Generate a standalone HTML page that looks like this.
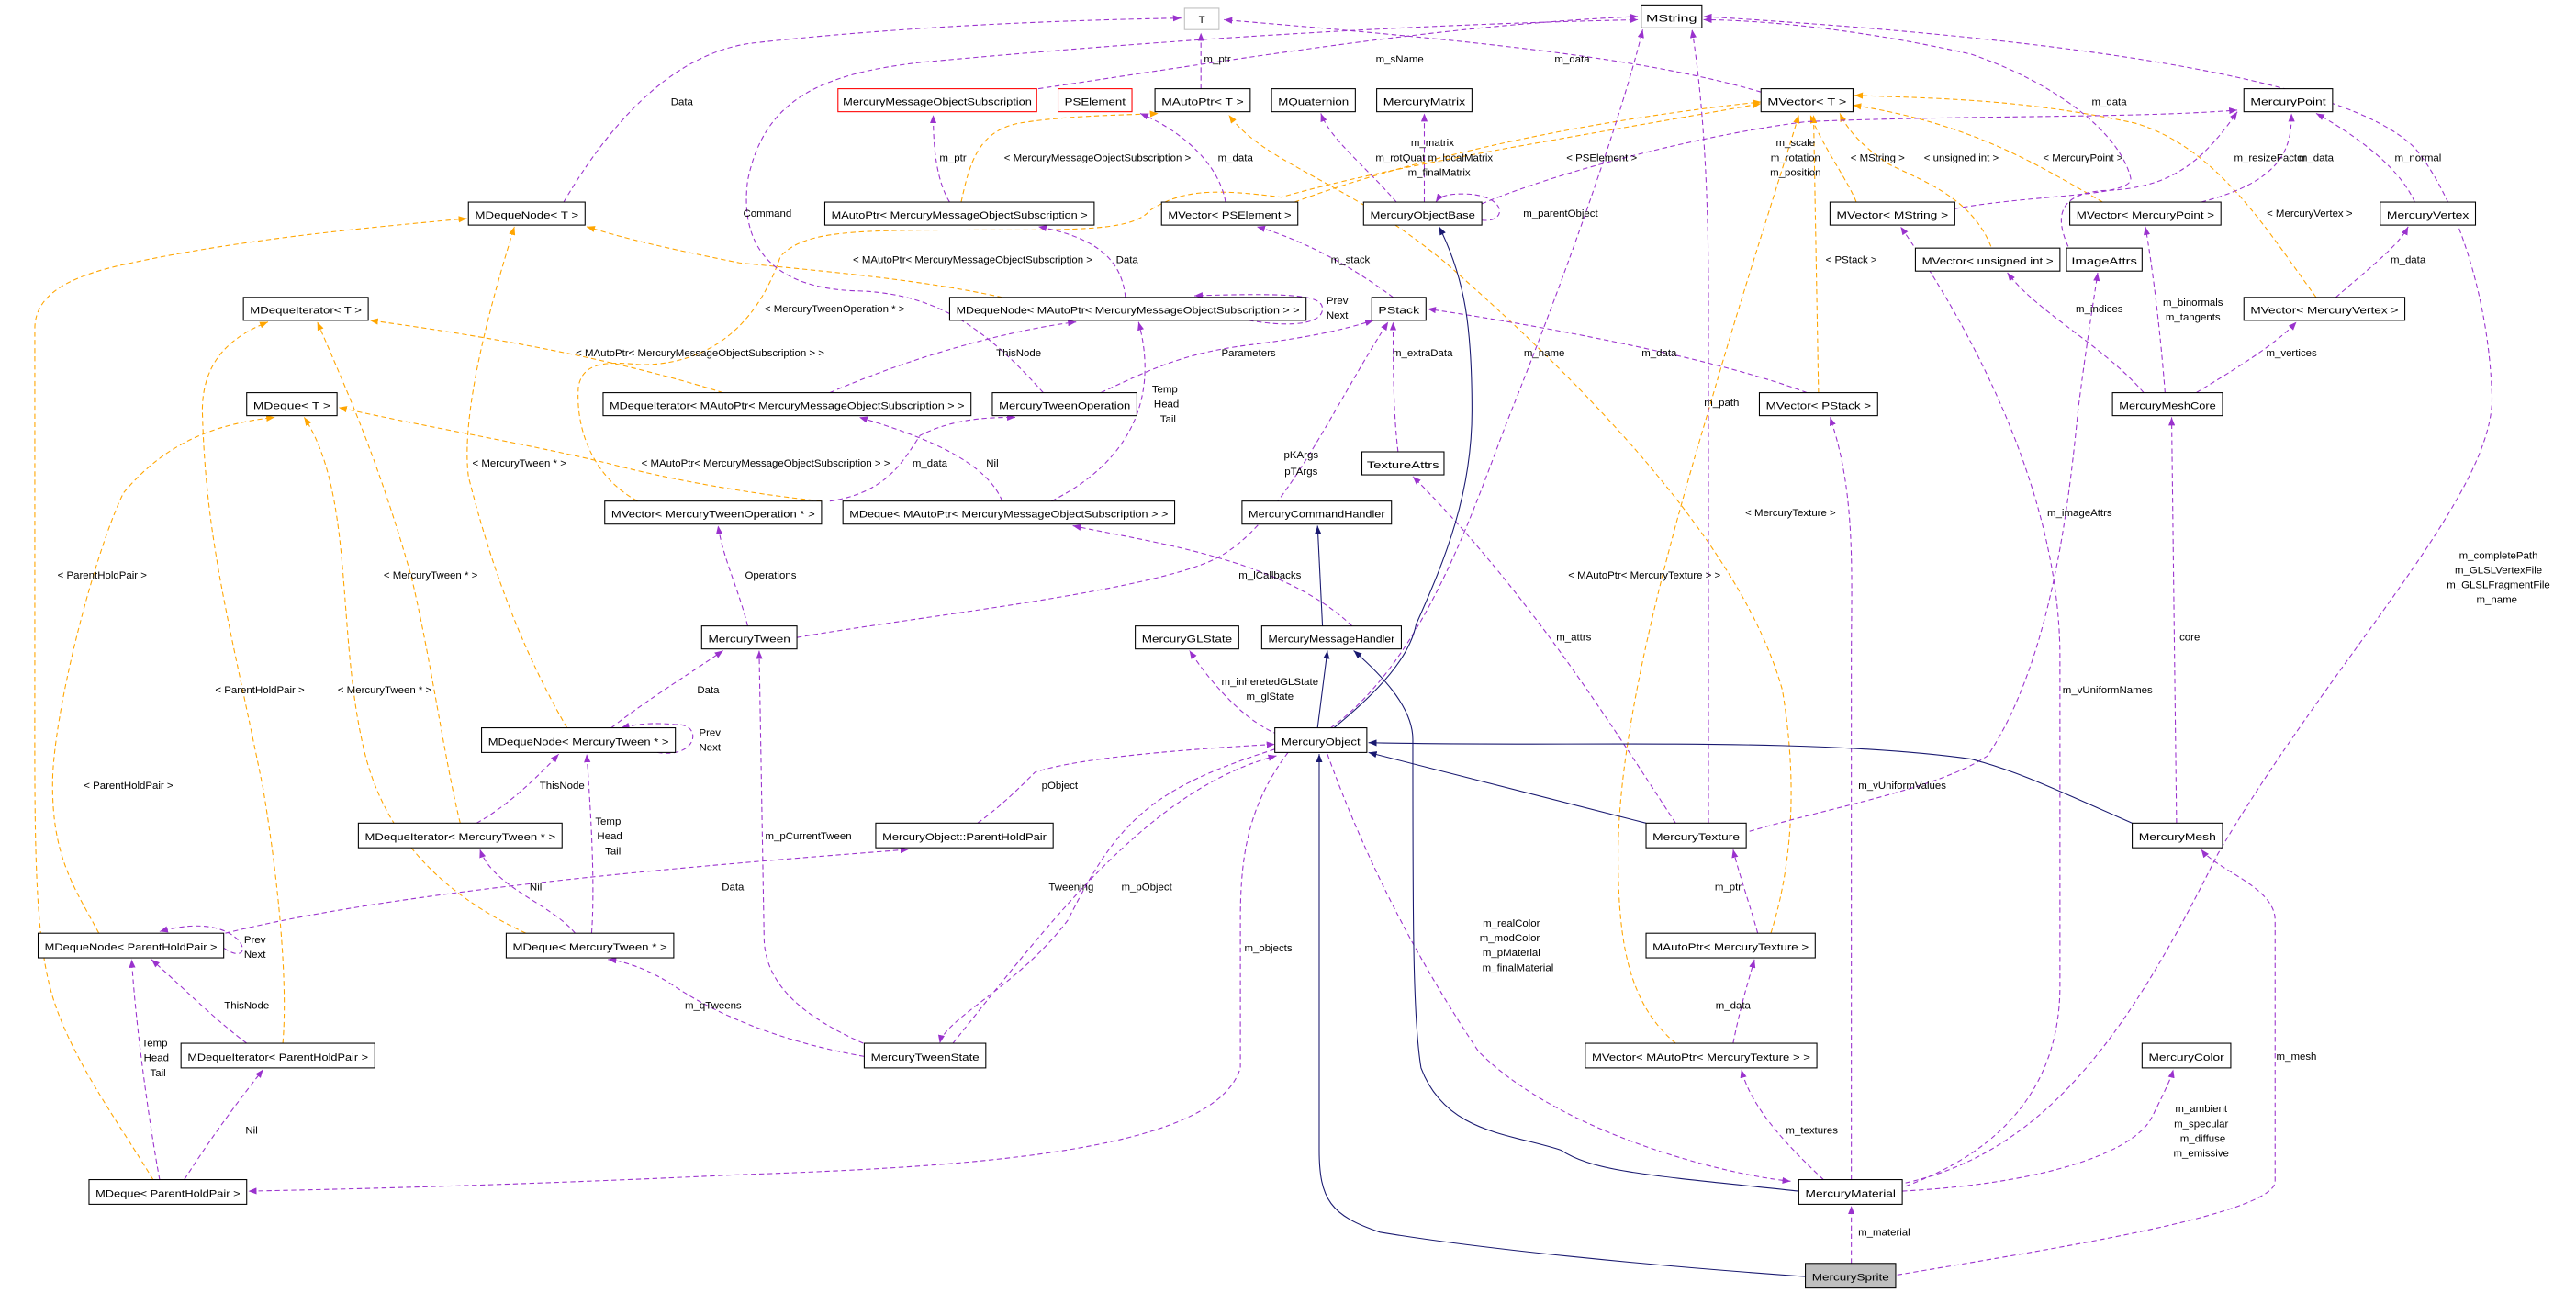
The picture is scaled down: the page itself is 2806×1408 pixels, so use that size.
<!DOCTYPE html>
<html><head><meta charset="utf-8"><style>
html,body{margin:0;padding:0;background:#fff;}
svg{display:block;}
.b{fill:#fff;stroke:#000;stroke-width:.6;}
.p{fill:none;stroke:#9a32cd;stroke-width:.6;stroke-dasharray:3 2;marker-end:url(#mp);}
.o{fill:none;stroke:#ffa500;stroke-width:.6;stroke-dasharray:3 2;marker-end:url(#mo);}
.n{fill:none;stroke:#191970;stroke-width:.6;marker-end:url(#mn);}
text{font-family:"Liberation Sans Narrow","Liberation Sans",sans-serif;font-size:6.4px;fill:#000;}
.c{text-anchor:middle;}
</style></head><body>
<svg width="2806" height="1408" viewBox="0 0 1568 787" xmlns="http://www.w3.org/2000/svg">
<defs>
<marker id="mp" markerUnits="userSpaceOnUse" markerWidth="6" markerHeight="4" refX="5" refY="2" orient="auto"><path d="M0,0L5,2L0,4z" fill="#9a32cd"/></marker>
<marker id="mo" markerUnits="userSpaceOnUse" markerWidth="6" markerHeight="4" refX="5" refY="2" orient="auto"><path d="M0,0L5,2L0,4z" fill="#ffa500"/></marker>
<marker id="mn" markerUnits="userSpaceOnUse" markerWidth="6" markerHeight="4" refX="5" refY="2" orient="auto"><path d="M0,0L5,2L0,4z" fill="#191970"/></marker>
</defs>
<!-- orange -->
<path class="o" d="M60,568 C45,540 30,520 32,470 C35,420 60,330 75,300 C100,270 130,258 167,254"/>
<path class="o" d="M93,718 C70,680 40,640 30,600 C20,560 21,500 21,400 L21,200 C21,180 40,168 80,160 C150,145 230,138 284,133"/>
<path class="o" d="M172,635 C175,600 170,540 160,480 C140,380 125,330 123,250 C123,220 140,205 163,196"/>
<path class="o" d="M280,501 C270,460 262,400 250,350 C230,280 212,240 193,196"/>
<path class="o" d="M320,568 C260,540 230,500 220,450 C205,380 215,300 185,254"/>
<path class="o" d="M345,443 C320,400 300,350 285,290 C280,250 300,180 313,138"/>
<path class="o" d="M610,181 C560,170 500,165 450,160 C400,150 380,145 357,138"/>
<path class="o" d="M440,239 C380,220 300,205 225,195"/>
<path class="o" d="M500,305 C450,300 400,290 370,282 C320,270 260,260 206,248"/>
<path class="o" d="M388,305 C360,290 350,260 352,235 C355,220 370,220 390,222 C430,222 460,200 475,156 C490,140 520,140 600,140 C660,140 690,140 700,128 C720,115 740,115 780,120 C850,100 950,85 1072,63"/>
<path class="o" d="M585,123 C590,100 595,80 620,75 C650,70 690,70 705,69"/>
<path class="o" d="M1078,568 C1090,530 1095,480 1085,420 C1060,330 960,230 880,160 C820,110 770,100 748,70"/>
<path class="o" d="M788,123 C850,100 950,75 1072,62"/>
<path class="o" d="M1130,123 C1125,110 1110,90 1102,70"/>
<path class="o" d="M1212,150 C1200,120 1170,110 1150,100 C1135,90 1125,80 1120,69"/>
<path class="o" d="M1280,123 C1240,100 1200,75 1128,64"/>
<path class="o" d="M1410,181 C1380,140 1350,90 1300,75 C1230,60 1180,60 1129,58"/>
<path class="o" d="M1107,239 L1104,70"/>
<path class="o" d="M1020,635 C990,610 985,570 985,520 C985,450 1010,350 1040,250 C1060,180 1080,120 1095,70"/>
<!-- purple -->
<path class="p" d="M343,123 C380,60 420,30 460,26 C560,15 660,12 719,11"/>
<path class="p" d="M632,54 C760,35 880,15 997,10"/>
<path class="p" d="M635,239 C600,200 570,178 520,177 C470,175 450,150 455,110 C465,60 500,45 560,38 C700,25 850,15 997,12"/>
<path class="p" d="M1072,56 C1000,35 900,25 745,12"/>
<path class="p" d="M731,54 L731,20"/>
<path class="p" d="M578,123 C570,110 568,90 568,70"/>
<path class="p" d="M746,123 C742,100 720,80 694,69"/>
<path class="p" d="M685,181 C683,160 670,145 632,138"/>
<path class="p" d="M760,195 C790,200 805,196 805,188 C805,180 790,178 727,180"/>
<path class="p" d="M505,239 C560,215 620,200 655,196"/>
<path class="p" d="M640,305 C690,280 705,240 693,196"/>
<path class="p" d="M610,305 C600,280 560,265 523,254"/>
<path class="p" d="M505,305 C540,300 550,280 560,265 C580,255 600,254 618,254"/>
<path class="p" d="M670,239 C700,225 720,215 760,210 C800,205 820,200 836,195"/>
<path class="p" d="M485,388 C560,375 700,360 740,340 C780,320 810,250 845,196"/>
<path class="p" d="M455,381 C450,360 440,340 437,320"/>
<path class="p" d="M372,443 C395,425 420,410 440,396"/>
<path class="p" d="M400,458 C425,462 428,440 411,441 C400,440 390,440 378,443"/>
<path class="p" d="M290,501 C310,490 330,470 340,459"/>
<path class="p" d="M360,568 C362,540 360,500 357,459"/>
<path class="p" d="M350,568 C335,550 300,540 292,517"/>
<path class="p" d="M526,643 C480,635 440,620 410,600 C395,590 380,585 370,584"/>
<path class="p" d="M530,637 C490,620 465,600 465,570 L462,396"/>
<path class="p" d="M776,456 C700,480 680,500 650,560 C620,600 575,620 572,635"/>
<path class="p" d="M580,635 C640,560 700,480 777,460"/>
<path class="p" d="M595,501 C610,490 620,480 630,470 C660,460 740,455 776,453"/>
<path class="p" d="M137,568 C250,540 450,525 553,517"/>
<path class="p" d="M136,577 C158,592 150,552 97,567"/>
<path class="p" d="M150,635 C130,620 110,600 92,584"/>
<path class="p" d="M97,718 C90,680 82,620 80,584"/>
<path class="p" d="M112,718 C130,690 145,670 160,651"/>
<path class="p" d="M784,458 C760,490 755,520 755,560 L755,650 C740,700 600,710 450,715 C300,722 200,724 151,725"/>
<path class="p" d="M778,447 C760,440 740,420 724,396"/>
<path class="p" d="M823,381 C780,340 700,330 653,320"/>
<path class="p" d="M810,443 C870,400 900,300 920,250 C960,150 990,60 1000,18"/>
<path class="p" d="M867,123 L867,69"/>
<path class="p" d="M850,123 C830,100 810,85 804,69"/>
<path class="p" d="M902,134 C918,136 918,118 890,118 C880,118 876,120 874,123"/>
<path class="p" d="M902,124 C960,100 1050,80 1100,74 C1200,70 1300,72 1362,67"/>
<path class="p" d="M1100,239 C1050,220 950,200 869,188"/>
<path class="p" d="M848,181 C820,160 790,145 765,138"/>
<path class="p" d="M851,275 C848,250 848,220 848,196"/>
<path class="p" d="M1040,501 L1040,180 C1040,100 1035,50 1030,18"/>
<path class="p" d="M1020,501 C980,440 930,360 860,290"/>
<path class="p" d="M1065,506 C1120,490 1180,480 1210,460 C1250,400 1260,300 1265,250 C1270,210 1275,180 1277,166"/>
<path class="p" d="M1127,718 L1127,400 C1127,350 1130,300 1114,254"/>
<path class="p" d="M1160,722 C1220,700 1254,660 1254,600 L1254,400 C1254,300 1200,200 1157,138"/>
<path class="p" d="M1305,239 C1280,210 1240,190 1222,166"/>
<path class="p" d="M1318,239 C1315,200 1310,160 1306,138"/>
<path class="p" d="M1337,239 C1360,225 1385,210 1398,196"/>
<path class="p" d="M1422,181 C1440,165 1460,150 1466,138"/>
<path class="p" d="M1470,123 C1460,100 1430,80 1410,69"/>
<path class="p" d="M1340,123 C1390,110 1395,90 1395,69"/>
<path class="p" d="M1259,150 C1250,130 1255,118 1280,116 C1320,115 1340,100 1362,68"/>
<path class="p" d="M1190,127 C1240,118 1300,120 1297,108 C1290,80 1250,50 1200,33 C1120,15 1060,12 1037,12"/>
<path class="p" d="M1160,720 C1250,700 1300,620 1350,520 C1420,400 1520,300 1517,240 C1515,180 1495,120 1470,90 C1420,40 1200,20 1037,10"/>
<path class="p" d="M1325,501 L1322,254"/>
<path class="p" d="M1155,776 C1250,760 1380,740 1385,720 L1385,560 C1385,540 1350,530 1340,517"/>
<path class="p" d="M1158,725 C1250,720 1300,700 1310,680 C1320,660 1322,655 1323,651"/>
<path class="p" d="M1110,718 C1080,690 1065,670 1060,651"/>
<path class="p" d="M1055,635 C1060,610 1065,595 1068,584"/>
<path class="p" d="M1070,568 C1065,550 1058,530 1055,517"/>
<path class="p" d="M1127,769 L1127,734"/>
<path class="p" d="M808,459 C830,520 860,580 900,640 C950,690 1050,715 1090,719"/>
<!-- navy -->
<path class="n" d="M802,443 L808,396"/>
<path class="n" d="M812,443 C840,420 858,400 862,380 C880,340 896,300 896,250 C896,200 892,170 876,138"/>
<path class="n" d="M805,381 L802,320"/>
<path class="n" d="M1002,501 L833,458"/>
<path class="n" d="M1298,501 C1250,480 1230,470 1200,462 C1100,448 950,455 833,452"/>
<path class="n" d="M1095,725 C1000,715 970,713 950,700 C920,690 880,690 865,650 C860,620 860,560 860,450 C860,430 840,410 824,396"/>
<path class="n" d="M1099,777 C1000,770 900,760 840,750 C810,740 803,730 803,700 L803,459"/>
<!-- boxes -->
<g>
<rect x="721" y="5" width="21" height="13" fill="#fff" stroke="#bfbfbf" stroke-width=".6"/><text class="c" x="731.5" y="14">T</text>
<rect class="b" x="999" y="3" width="37" height="14"/><text class="c" x="1017.5" y="13" textLength="31" lengthAdjust="spacingAndGlyphs">MString</text>
<rect x="510" y="54" width="121" height="14" fill="#fff" stroke="#f00" stroke-width=".6"/><text class="c" x="570.5" y="64" textLength="115" lengthAdjust="spacingAndGlyphs">MercuryMessageObjectSubscription</text>
<rect x="644" y="54" width="45" height="14" fill="#fff" stroke="#f00" stroke-width=".6"/><text class="c" x="666.5" y="64" textLength="37" lengthAdjust="spacingAndGlyphs">PSElement</text>
<rect class="b" x="703" y="54" width="58" height="14"/><text class="c" x="732" y="64" textLength="50" lengthAdjust="spacingAndGlyphs">MAutoPtr&lt; T &gt;</text>
<rect class="b" x="774" y="54" width="51" height="14"/><text class="c" x="799.5" y="64" textLength="43" lengthAdjust="spacingAndGlyphs">MQuaternion</text>
<rect class="b" x="838" y="54" width="58" height="14"/><text class="c" x="867" y="64" textLength="50" lengthAdjust="spacingAndGlyphs">MercuryMatrix</text>
<rect class="b" x="1072" y="54" width="56" height="14"/><text class="c" x="1100" y="64" textLength="48" lengthAdjust="spacingAndGlyphs">MVector&lt; T &gt;</text>
<rect class="b" x="1366" y="54" width="54" height="14"/><text class="c" x="1393" y="64" textLength="46" lengthAdjust="spacingAndGlyphs">MercuryPoint</text>
<rect class="b" x="285" y="123" width="71" height="14"/><text class="c" x="320.5" y="133" textLength="63" lengthAdjust="spacingAndGlyphs">MDequeNode&lt; T &gt;</text>
<rect class="b" x="502" y="123" width="164" height="14"/><text class="c" x="584" y="133" textLength="156" lengthAdjust="spacingAndGlyphs">MAutoPtr&lt; MercuryMessageObjectSubscription &gt;</text>
<rect class="b" x="707" y="123" width="83" height="14"/><text class="c" x="748.5" y="133" textLength="75" lengthAdjust="spacingAndGlyphs">MVector&lt; PSElement &gt;</text>
<rect class="b" x="830" y="123" width="72" height="14"/><text class="c" x="866" y="133" textLength="64" lengthAdjust="spacingAndGlyphs">MercuryObjectBase</text>
<rect class="b" x="1114" y="123" width="76" height="14"/><text class="c" x="1152" y="133" textLength="68" lengthAdjust="spacingAndGlyphs">MVector&lt; MString &gt;</text>
<rect class="b" x="1260" y="123" width="92" height="14"/><text class="c" x="1306" y="133" textLength="84" lengthAdjust="spacingAndGlyphs">MVector&lt; MercuryPoint &gt;</text>
<rect class="b" x="1449" y="123" width="58" height="14"/><text class="c" x="1478" y="133" textLength="50" lengthAdjust="spacingAndGlyphs">MercuryVertex</text>
<rect class="b" x="148" y="181" width="76" height="14"/><text class="c" x="186" y="191" textLength="68" lengthAdjust="spacingAndGlyphs">MDequeIterator&lt; T &gt;</text>
<rect class="b" x="578" y="181" width="217" height="14"/><text class="c" x="686.5" y="191" textLength="209" lengthAdjust="spacingAndGlyphs">MDequeNode&lt; MAutoPtr&lt; MercuryMessageObjectSubscription &gt; &gt;</text>
<rect class="b" x="835" y="181" width="33" height="14"/><text class="c" x="851.5" y="191" textLength="25" lengthAdjust="spacingAndGlyphs">PStack</text>
<rect class="b" x="1166" y="151" width="88" height="14"/><text class="c" x="1210" y="161" textLength="80" lengthAdjust="spacingAndGlyphs">MVector&lt; unsigned int &gt;</text>
<rect class="b" x="1258" y="151" width="46" height="14"/><text class="c" x="1281" y="161" textLength="40" lengthAdjust="spacingAndGlyphs">ImageAttrs</text>
<rect class="b" x="1366" y="181" width="98" height="14"/><text class="c" x="1415" y="191" textLength="90" lengthAdjust="spacingAndGlyphs">MVector&lt; MercuryVertex &gt;</text>
<rect class="b" x="150" y="239" width="55" height="14"/><text class="c" x="177.5" y="249" textLength="47" lengthAdjust="spacingAndGlyphs">MDeque&lt; T &gt;</text>
<rect class="b" x="367" y="239" width="224" height="14"/><text class="c" x="479" y="249" textLength="216" lengthAdjust="spacingAndGlyphs">MDequeIterator&lt; MAutoPtr&lt; MercuryMessageObjectSubscription &gt; &gt;</text>
<rect class="b" x="604" y="239" width="88" height="14"/><text class="c" x="648" y="249" textLength="80" lengthAdjust="spacingAndGlyphs">MercuryTweenOperation</text>
<rect class="b" x="1071" y="239" width="72" height="14"/><text class="c" x="1107" y="249" textLength="64" lengthAdjust="spacingAndGlyphs">MVector&lt; PStack &gt;</text>
<rect class="b" x="1286" y="239" width="67" height="14"/><text class="c" x="1319.5" y="249" textLength="59" lengthAdjust="spacingAndGlyphs">MercuryMeshCore</text>
<rect class="b" x="829" y="275" width="50" height="14"/><text class="c" x="854" y="285" textLength="44" lengthAdjust="spacingAndGlyphs">TextureAttrs</text>
<rect class="b" x="368" y="305" width="132" height="14"/><text class="c" x="434" y="315" textLength="124" lengthAdjust="spacingAndGlyphs">MVector&lt; MercuryTweenOperation * &gt;</text>
<rect class="b" x="513" y="305" width="202" height="14"/><text class="c" x="614" y="315" textLength="194" lengthAdjust="spacingAndGlyphs">MDeque&lt; MAutoPtr&lt; MercuryMessageObjectSubscription &gt; &gt;</text>
<rect class="b" x="756" y="305" width="91" height="14"/><text class="c" x="801.5" y="315" textLength="83" lengthAdjust="spacingAndGlyphs">MercuryCommandHandler</text>
<rect class="b" x="427" y="381" width="58" height="14"/><text class="c" x="456" y="391" textLength="50" lengthAdjust="spacingAndGlyphs">MercuryTween</text>
<rect class="b" x="691" y="381" width="63" height="14"/><text class="c" x="722.5" y="391" textLength="55" lengthAdjust="spacingAndGlyphs">MercuryGLState</text>
<rect class="b" x="768" y="381" width="85" height="14"/><text class="c" x="810.5" y="391" textLength="77" lengthAdjust="spacingAndGlyphs">MercuryMessageHandler</text>
<rect class="b" x="293" y="443" width="118" height="15"/><text class="c" x="352" y="453.5" textLength="110" lengthAdjust="spacingAndGlyphs">MDequeNode&lt; MercuryTween * &gt;</text>
<rect class="b" x="776" y="443" width="56" height="15"/><text class="c" x="804" y="453.5" textLength="48" lengthAdjust="spacingAndGlyphs">MercuryObject</text>
<rect class="b" x="218" y="501" width="124" height="15"/><text class="c" x="280" y="511.5" textLength="116" lengthAdjust="spacingAndGlyphs">MDequeIterator&lt; MercuryTween * &gt;</text>
<rect class="b" x="533" y="501" width="108" height="15"/><text class="c" x="587" y="511.5" textLength="100" lengthAdjust="spacingAndGlyphs">MercuryObject::ParentHoldPair</text>
<rect class="b" x="1002" y="501" width="61" height="15"/><text class="c" x="1032.5" y="511.5" textLength="53" lengthAdjust="spacingAndGlyphs">MercuryTexture</text>
<rect class="b" x="1298" y="501" width="55" height="15"/><text class="c" x="1325.5" y="511.5" textLength="47" lengthAdjust="spacingAndGlyphs">MercuryMesh</text>
<rect class="b" x="23" y="568" width="113" height="15"/><text class="c" x="79.5" y="578.5" textLength="105" lengthAdjust="spacingAndGlyphs">MDequeNode&lt; ParentHoldPair &gt;</text>
<rect class="b" x="308" y="568" width="102" height="15"/><text class="c" x="359" y="578.5" textLength="94" lengthAdjust="spacingAndGlyphs">MDeque&lt; MercuryTween * &gt;</text>
<rect class="b" x="1002" y="568" width="103" height="15"/><text class="c" x="1053.5" y="578.5" textLength="95" lengthAdjust="spacingAndGlyphs">MAutoPtr&lt; MercuryTexture &gt;</text>
<rect class="b" x="110" y="635" width="118" height="15"/><text class="c" x="169" y="645.5" textLength="110" lengthAdjust="spacingAndGlyphs">MDequeIterator&lt; ParentHoldPair &gt;</text>
<rect class="b" x="526" y="635" width="74" height="15"/><text class="c" x="563" y="645.5" textLength="66" lengthAdjust="spacingAndGlyphs">MercuryTweenState</text>
<rect class="b" x="965" y="635" width="141" height="15"/><text class="c" x="1035.5" y="645.5" textLength="133" lengthAdjust="spacingAndGlyphs">MVector&lt; MAutoPtr&lt; MercuryTexture &gt; &gt;</text>
<rect class="b" x="1304" y="635" width="54" height="15"/><text class="c" x="1331" y="645.5" textLength="46" lengthAdjust="spacingAndGlyphs">MercuryColor</text>
<rect class="b" x="54" y="718" width="96" height="15"/><text class="c" x="102" y="728.5" textLength="88" lengthAdjust="spacingAndGlyphs">MDeque&lt; ParentHoldPair &gt;</text>
<rect class="b" x="1095" y="718" width="63" height="15"/><text class="c" x="1126.5" y="728.5" textLength="55" lengthAdjust="spacingAndGlyphs">MercuryMaterial</text>
<rect x="1099" y="769" width="55" height="15" fill="#bfbfbf" stroke="#000" stroke-width=".6"/><text class="c" x="1126.5" y="779.5" textLength="47" lengthAdjust="spacingAndGlyphs">MercurySprite</text>
</g>
<!-- labels -->
<g class="c">
<text x="415" y="64">Data</text>
<text x="852" y="38">m_sName</text>
<text x="957" y="38">m_data</text>
<text x="741" y="38">m_ptr</text>
<text x="580" y="98">m_ptr</text>
<text x="668" y="98">&lt; MercuryMessageObjectSubscription &gt;</text>
<text x="752" y="98">m_data</text>
<text x="467" y="132">Command</text>
<text x="592" y="160">&lt; MAutoPtr&lt; MercuryMessageObjectSubscription &gt;</text>
<text x="686" y="160">Data</text>
<text x="508" y="190">&lt; MercuryTweenOperation * &gt;</text>
<text x="426" y="217">&lt; MAutoPtr&lt; MercuryMessageObjectSubscription &gt; &gt;</text>
<text x="620" y="217">ThisNode</text>
<text x="760" y="217">Parameters</text>
<text x="709" y="239">Temp</text><text x="710" y="248">Head</text><text x="711" y="257">Tail</text>
<text x="466" y="284">&lt; MAutoPtr&lt; MercuryMessageObjectSubscription &gt; &gt;</text>
<text x="566" y="284">m_data</text>
<text x="604" y="284">Nil</text>
<text x="316" y="284">&lt; MercuryTween * &gt;</text>
<text x="469" y="352">Operations</text>
<text x="62" y="352">&lt; ParentHoldPair &gt;</text>
<text x="262" y="352">&lt; MercuryTween * &gt;</text>
<text x="431" y="422">Data</text>
<text x="158" y="422">&lt; ParentHoldPair &gt;</text>
<text x="234" y="422">&lt; MercuryTween * &gt;</text>
<text x="78" y="480">&lt; ParentHoldPair &gt;</text>
<text x="342" y="480">ThisNode</text>
<text x="645" y="480">pObject</text>
<text x="370" y="502">Temp</text><text x="371" y="511">Head</text><text x="373" y="520">Tail</text>
<text x="492" y="511">m_pCurrentTween</text>
<text x="326" y="542">Nil</text>
<text x="446" y="542">Data</text>
<text x="652" y="542">Tweening</text>
<text x="698" y="542">m_pObject</text>
<text x="772" y="579">m_objects</text>
<text x="150" y="614">ThisNode</text>
<text x="434" y="614">m_qTweens</text>
<text x="94" y="637">Temp</text><text x="95" y="646">Head</text><text x="96" y="655">Tail</text>
<text x="153" y="690">Nil</text>
<text x="432" y="149" style="display:none"></text>
<text x="792" y="279">pKArgs</text><text x="792" y="289">pTArgs</text>
<text x="773" y="352">m_lCallbacks</text>
<text x="773" y="417">m_inheretedGLState</text><text x="773" y="426">m_glState</text>
<text x="814" y="185">Prev</text><text x="814" y="194">Next</text>
<text x="432" y="448">Prev</text><text x="432" y="457">Next</text>
<text x="155" y="574">Prev</text><text x="155" y="583">Next</text>
<text x="872" y="89">m_matrix</text>
<text x="873" y="98">m_rotQuat m_localMatrix</text>
<text x="876" y="107">m_finalMatrix</text>
<text x="950" y="132">m_parentObject</text>
<text x="822" y="160">m_stack</text>
<text x="866" y="217">m_extraData</text>
<text x="940" y="217">m_name</text>
<text x="1010" y="217">m_data</text>
<text x="975" y="98">&lt; PSElement &gt;</text>
<text x="1093" y="89">m_scale</text><text x="1093" y="98">m_rotation</text><text x="1093" y="107">m_position</text>
<text x="1143" y="98">&lt; MString &gt;</text>
<text x="1194" y="98">&lt; unsigned int &gt;</text>
<text x="1268" y="98">&lt; MercuryPoint &gt;</text>
<text x="1284" y="64">m_data</text>
<text x="1382" y="98">m_resizeFactor</text>
<text x="1410" y="98">m_data</text>
<text x="1472" y="98">m_normal</text>
<text x="1406" y="132">&lt; MercuryVertex &gt;</text>
<text x="1466" y="160">m_data</text>
<text x="1127" y="160">&lt; PStack &gt;</text>
<text x="1278" y="190">m_indices</text>
<text x="1335" y="186">m_binormals</text><text x="1335" y="195">m_tangents</text>
<text x="1395" y="217">m_vertices</text>
<text x="1048" y="247">m_path</text>
<text x="1266" y="314">m_imageAttrs</text>
<text x="1090" y="314">&lt; MercuryTexture &gt;</text>
<text x="1001" y="352">&lt; MAutoPtr&lt; MercuryTexture &gt; &gt;</text>
<text x="958" y="390">m_attrs</text>
<text x="1333" y="390">core</text>
<text x="1283" y="422">m_vUniformNames</text>
<text x="1158" y="480">m_vUniformValues</text>
<text x="1052" y="542">m_ptr</text>
<text x="1055" y="614">m_data</text>
<text x="1398" y="645">m_mesh</text>
<text x="1103" y="690">m_textures</text>
<text x="1147" y="752">m_material</text>
<text x="920" y="564">m_realColor</text><text x="919" y="573">m_modColor</text><text x="920" y="582">m_pMaterial</text><text x="924" y="591">m_finalMaterial</text>
<text x="1340" y="677">m_ambient</text><text x="1340" y="686">m_specular</text><text x="1341" y="695">m_diffuse</text><text x="1340" y="704">m_emissive</text>
<text x="1521" y="340">m_completePath</text><text x="1521" y="349">m_GLSLVertexFile</text><text x="1521" y="358">m_GLSLFragmentFile</text><text x="1520" y="367">m_name</text>
</g>
</svg>
</body></html>
